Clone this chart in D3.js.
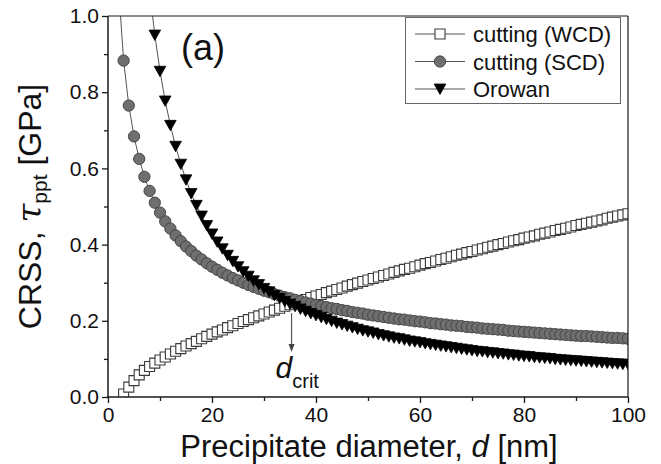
<!DOCTYPE html>
<html>
<head>
<meta charset="utf-8">
<script src="https://cdn.jsdelivr.net/npm/d3@7"></script>
<style>
  html, body { margin: 0; padding: 0; background: #fff; }
  svg { display: block; font-family: "Liberation Sans", Arial, Helvetica, sans-serif; }
</style>
</head>
<body>
<svg id="chart" width="661" height="464"></svg>
<script>
// ---- data: critical resolved shear stress vs precipitate diameter ----
const seriesNames = ["cutting (WCD)", "cutting (SCD)", "Orowan"];

// weakly coupled dislocations (cutting), d = 3 .. 100 nm
const wcdDiameter = d3.range(3, 101);
const wcdStress = [
  0.008, 0.026, 0.043, 0.058, 0.070, 0.080, 0.089, 0.097, 0.105, 0.113,
  0.120, 0.127, 0.134, 0.140, 0.146, 0.153, 0.159, 0.165, 0.171, 0.176,
  0.182, 0.187, 0.193, 0.198, 0.203, 0.208, 0.213, 0.218, 0.223, 0.228,
  0.233, 0.238, 0.242, 0.247, 0.252, 0.256, 0.261, 0.265, 0.269, 0.274,
  0.278, 0.282, 0.286, 0.291, 0.295, 0.299, 0.303, 0.307, 0.311, 0.315,
  0.319, 0.323, 0.327, 0.331, 0.335, 0.338, 0.342, 0.346, 0.350, 0.353,
  0.357, 0.361, 0.364, 0.368, 0.372, 0.375, 0.379, 0.382, 0.386, 0.389,
  0.393, 0.396, 0.400, 0.403, 0.407, 0.410, 0.413, 0.417, 0.420, 0.423,
  0.427, 0.430, 0.433, 0.437, 0.440, 0.443, 0.446, 0.450, 0.453, 0.456,
  0.459, 0.462, 0.465, 0.469, 0.472, 0.475, 0.478, 0.481
];

// strongly coupled dislocations (cutting), d = 2 .. 100 nm
const scdDiameter = d3.range(2, 101);
const scdStress = [
  1.082, 0.883, 0.765, 0.684, 0.625, 0.578, 0.541, 0.510, 0.484, 0.461,
  0.442, 0.424, 0.409, 0.395, 0.383, 0.371, 0.361, 0.351, 0.342, 0.334,
  0.326, 0.319, 0.312, 0.306, 0.300, 0.294, 0.289, 0.284, 0.279, 0.275,
  0.270, 0.266, 0.262, 0.259, 0.255, 0.252, 0.248, 0.245, 0.242, 0.239,
  0.236, 0.233, 0.231, 0.228, 0.226, 0.223, 0.221, 0.219, 0.216, 0.214,
  0.212, 0.210, 0.208, 0.206, 0.204, 0.203, 0.201, 0.199, 0.198, 0.196,
  0.194, 0.193, 0.191, 0.190, 0.188, 0.187, 0.186, 0.184, 0.183, 0.182,
  0.180, 0.179, 0.178, 0.177, 0.176, 0.174, 0.173, 0.172, 0.171, 0.170,
  0.169, 0.168, 0.167, 0.166, 0.165, 0.164, 0.163, 0.162, 0.161, 0.160,
  0.160, 0.159, 0.158, 0.157, 0.156, 0.155, 0.155, 0.154, 0.153
];

// Orowan bypassing, d = 8 .. 100 nm
const orowanDiameter = d3.range(8, 101);
const orowanStress = [
  1.069, 0.950, 0.855, 0.777, 0.713, 0.658, 0.611, 0.570, 0.534, 0.503,
  0.475, 0.450, 0.428, 0.407, 0.389, 0.372, 0.356, 0.342, 0.329, 0.317,
  0.305, 0.295, 0.285, 0.276, 0.267, 0.259, 0.251, 0.244, 0.238, 0.231,
  0.225, 0.219, 0.214, 0.209, 0.204, 0.199, 0.194, 0.190, 0.186, 0.182,
  0.178, 0.174, 0.171, 0.168, 0.164, 0.161, 0.158, 0.155, 0.153, 0.150,
  0.147, 0.145, 0.143, 0.140, 0.138, 0.136, 0.134, 0.132, 0.130, 0.128,
  0.126, 0.124, 0.122, 0.120, 0.119, 0.117, 0.116, 0.114, 0.113, 0.111,
  0.110, 0.108, 0.107, 0.106, 0.104, 0.103, 0.102, 0.101, 0.099, 0.098,
  0.097, 0.096, 0.095, 0.094, 0.093, 0.092, 0.091, 0.090, 0.089, 0.088,
  0.087, 0.086, 0.086
];

const xMajorTicks = [0, 20, 40, 60, 80, 100];
const xMinorTicks = [10, 30, 50, 70, 90];
const yMajorTicks = [0.0, 0.2, 0.4, 0.6, 0.8, 1.0];
const yMinorTicks = [0.1, 0.3, 0.5, 0.7, 0.9];

// critical diameter marker (arrow from just below the crossing point)
const dCrit = 35.3;
const dCritArrow = [0.22, 0.118];

// ---- layout ----
const svg = d3.select("#chart");
const plot = { left: 108, right: 628, top: 16, bottom: 397 };

const x = d3.scaleLinear().domain([0, 100]).range([plot.left, plot.right]);
const y = d3.scaleLinear().domain([0, 1]).range([plot.bottom, plot.top]);

svg.append("defs").append("clipPath").attr("id", "plot-clip")
  .append("rect")
  .attr("x", plot.left).attr("y", plot.top)
  .attr("width", plot.right - plot.left).attr("height", plot.bottom - plot.top);

// ---- marker shapes ----
const squarePath = "M-5,-5H5V5H-5Z";
const circlePath = d3.symbol(d3.symbolCircle, 100)();
const triDownPath = "M-5.8,-5L5.8,-5L0,5.4Z";

const styles = [
  { path: squarePath, fill: "#ffffff", stroke: "#3a3a3a", sw: 1.1 },
  { path: circlePath, fill: "#6f6f6f", stroke: "#454545", sw: 1 },
  { path: triDownPath, fill: "#000000", stroke: "#000000", sw: 0.8 }
];

const seriesData = [
  d3.zip(wcdDiameter, wcdStress),
  d3.zip(scdDiameter, scdStress),
  d3.zip(orowanDiameter, orowanStress)
];

// ---- series ----
const dataLayer = svg.append("g").attr("clip-path", "url(#plot-clip)");
const line = d3.line().x(d => x(d[0])).y(d => y(d[1]));

seriesData.forEach((pts, i) => {
  const st = styles[i];
  const g = dataLayer.append("g");
  g.append("path")
    .attr("d", line(pts))
    .attr("fill", "none")
    .attr("stroke", "#555")
    .attr("stroke-width", 1);
  g.selectAll("path.m")
    .data(pts)
    .join("path")
    .attr("class", "m")
    .attr("d", st.path)
    .attr("transform", d => `translate(${x(d[0])},${y(d[1])})`)
    .attr("fill", st.fill)
    .attr("stroke", st.stroke)
    .attr("stroke-width", st.sw);
});

// ---- axes ----
const axisColor = "#1a1a1a";
const tickFont = 21;

svg.append("g").attr("transform", `translate(0,${plot.bottom})`)
  .call(d3.axisBottom(x).tickValues(xMajorTicks).tickSize(6).tickPadding(4).tickFormat(d3.format("d")));
svg.append("g").attr("transform", `translate(0,${plot.bottom})`)
  .call(d3.axisBottom(x).tickValues(xMinorTicks).tickSize(4).tickFormat(""));

svg.append("g").attr("transform", `translate(${plot.left},0)`)
  .call(d3.axisLeft(y).tickValues(yMajorTicks).tickSize(6).tickPadding(3).tickFormat(d3.format(".1f")));
svg.append("g").attr("transform", `translate(${plot.left},0)`)
  .call(d3.axisLeft(y).tickValues(yMinorTicks).tickSize(4).tickFormat(""));

svg.selectAll(".domain").remove();
svg.selectAll(".tick line").attr("stroke", axisColor).attr("stroke-width", 1.3);
svg.selectAll(".tick text")
  .attr("fill", "#111")
  .style("font-family", '"Liberation Sans", Arial, sans-serif')
  .style("font-size", tickFont + "px");

// plot frame
svg.append("line").attr("x1", plot.left).attr("x2", plot.right).attr("y1", plot.top).attr("y2", plot.top)
  .attr("stroke", axisColor).attr("stroke-width", 1.2);
svg.append("line").attr("x1", plot.right).attr("x2", plot.right).attr("y1", plot.top).attr("y2", plot.bottom)
  .attr("stroke", axisColor).attr("stroke-width", 1.2);
svg.append("line").attr("x1", plot.left).attr("x2", plot.left).attr("y1", plot.top).attr("y2", plot.bottom + 0.7)
  .attr("stroke", axisColor).attr("stroke-width", 1.5);
svg.append("line").attr("x1", plot.left - 0.7).attr("x2", plot.right).attr("y1", plot.bottom).attr("y2", plot.bottom)
  .attr("stroke", axisColor).attr("stroke-width", 1.5);

// ---- axis titles ----
const xTitle = svg.append("text")
  .attr("x", (plot.left + plot.right) / 2 + 1).attr("y", 457)
  .attr("text-anchor", "middle")
  .style("font-size", "31px").attr("fill", "#111");
xTitle.append("tspan").text("Precipitate diameter, ");
xTitle.append("tspan").style("font-style", "italic").text("d");
xTitle.append("tspan").text(" [nm]");

const yTitle = svg.append("text")
  .attr("transform", `translate(41,${(plot.top + plot.bottom) / 2}) rotate(-90)`)
  .attr("text-anchor", "middle")
  .style("font-size", "32px").attr("fill", "#111");
yTitle.append("tspan").text("CRSS,  ");
yTitle.append("tspan").style("font-style", "italic")
  .style("font-family", '"DejaVu Serif", "Liberation Serif", serif')
  .style("font-size", "34px").text("τ");
yTitle.append("tspan").attr("dy", 6).style("font-size", "21px").text("ppt");
yTitle.append("tspan").attr("dy", -6).text(" [GPa]");

// ---- panel label ----
svg.append("text").attr("x", 181).attr("y", 60)
  .style("font-size", "36px").attr("fill", "#111").text("(a)");

// ---- critical diameter annotation ----
svg.append("line")
  .attr("x1", x(dCrit)).attr("x2", x(dCrit))
  .attr("y1", y(dCritArrow[0])).attr("y2", y(dCritArrow[1]) - 6)
  .attr("stroke", "#555").attr("stroke-width", 1.2);
svg.append("path")
  .attr("d", `M${x(dCrit) - 3},${y(dCritArrow[1]) - 8}L${x(dCrit) + 3},${y(dCritArrow[1]) - 8}L${x(dCrit)},${y(dCritArrow[1])}Z`)
  .attr("fill", "#444");
const dLabel = svg.append("text").attr("x", x(dCrit) - 16).attr("y", 378)
  .attr("fill", "#111").style("font-size", "30px");
dLabel.append("tspan").style("font-style", "italic").text("d");
dLabel.append("tspan").attr("dy", 10).style("font-size", "20px").text("crit");

// ---- legend ----
const legend = svg.append("g");
legend.append("rect")
  .attr("x", 405.5).attr("y", 17.5).attr("width", 215).attr("height", 86)
  .attr("fill", "#fff").attr("stroke", "#666").attr("stroke-width", 1);
seriesNames.forEach((name, i) => {
  const st = styles[i];
  const cy = 34 + i * 27.5;
  const row = legend.append("g").attr("transform", `translate(0,${cy})`);
  row.append("line").attr("x1", 415).attr("x2", 465).attr("y1", 0).attr("y2", 0)
    .attr("stroke", "#555").attr("stroke-width", 1);
  row.append("path").attr("d", st.path).attr("transform", "translate(440,0)")
    .attr("fill", st.fill).attr("stroke", st.stroke).attr("stroke-width", st.sw);
  row.append("text").attr("x", 473).attr("y", 8)
    .style("font-size", "22px").attr("fill", "#111").text(name);
});
</script>
</body>
</html>
